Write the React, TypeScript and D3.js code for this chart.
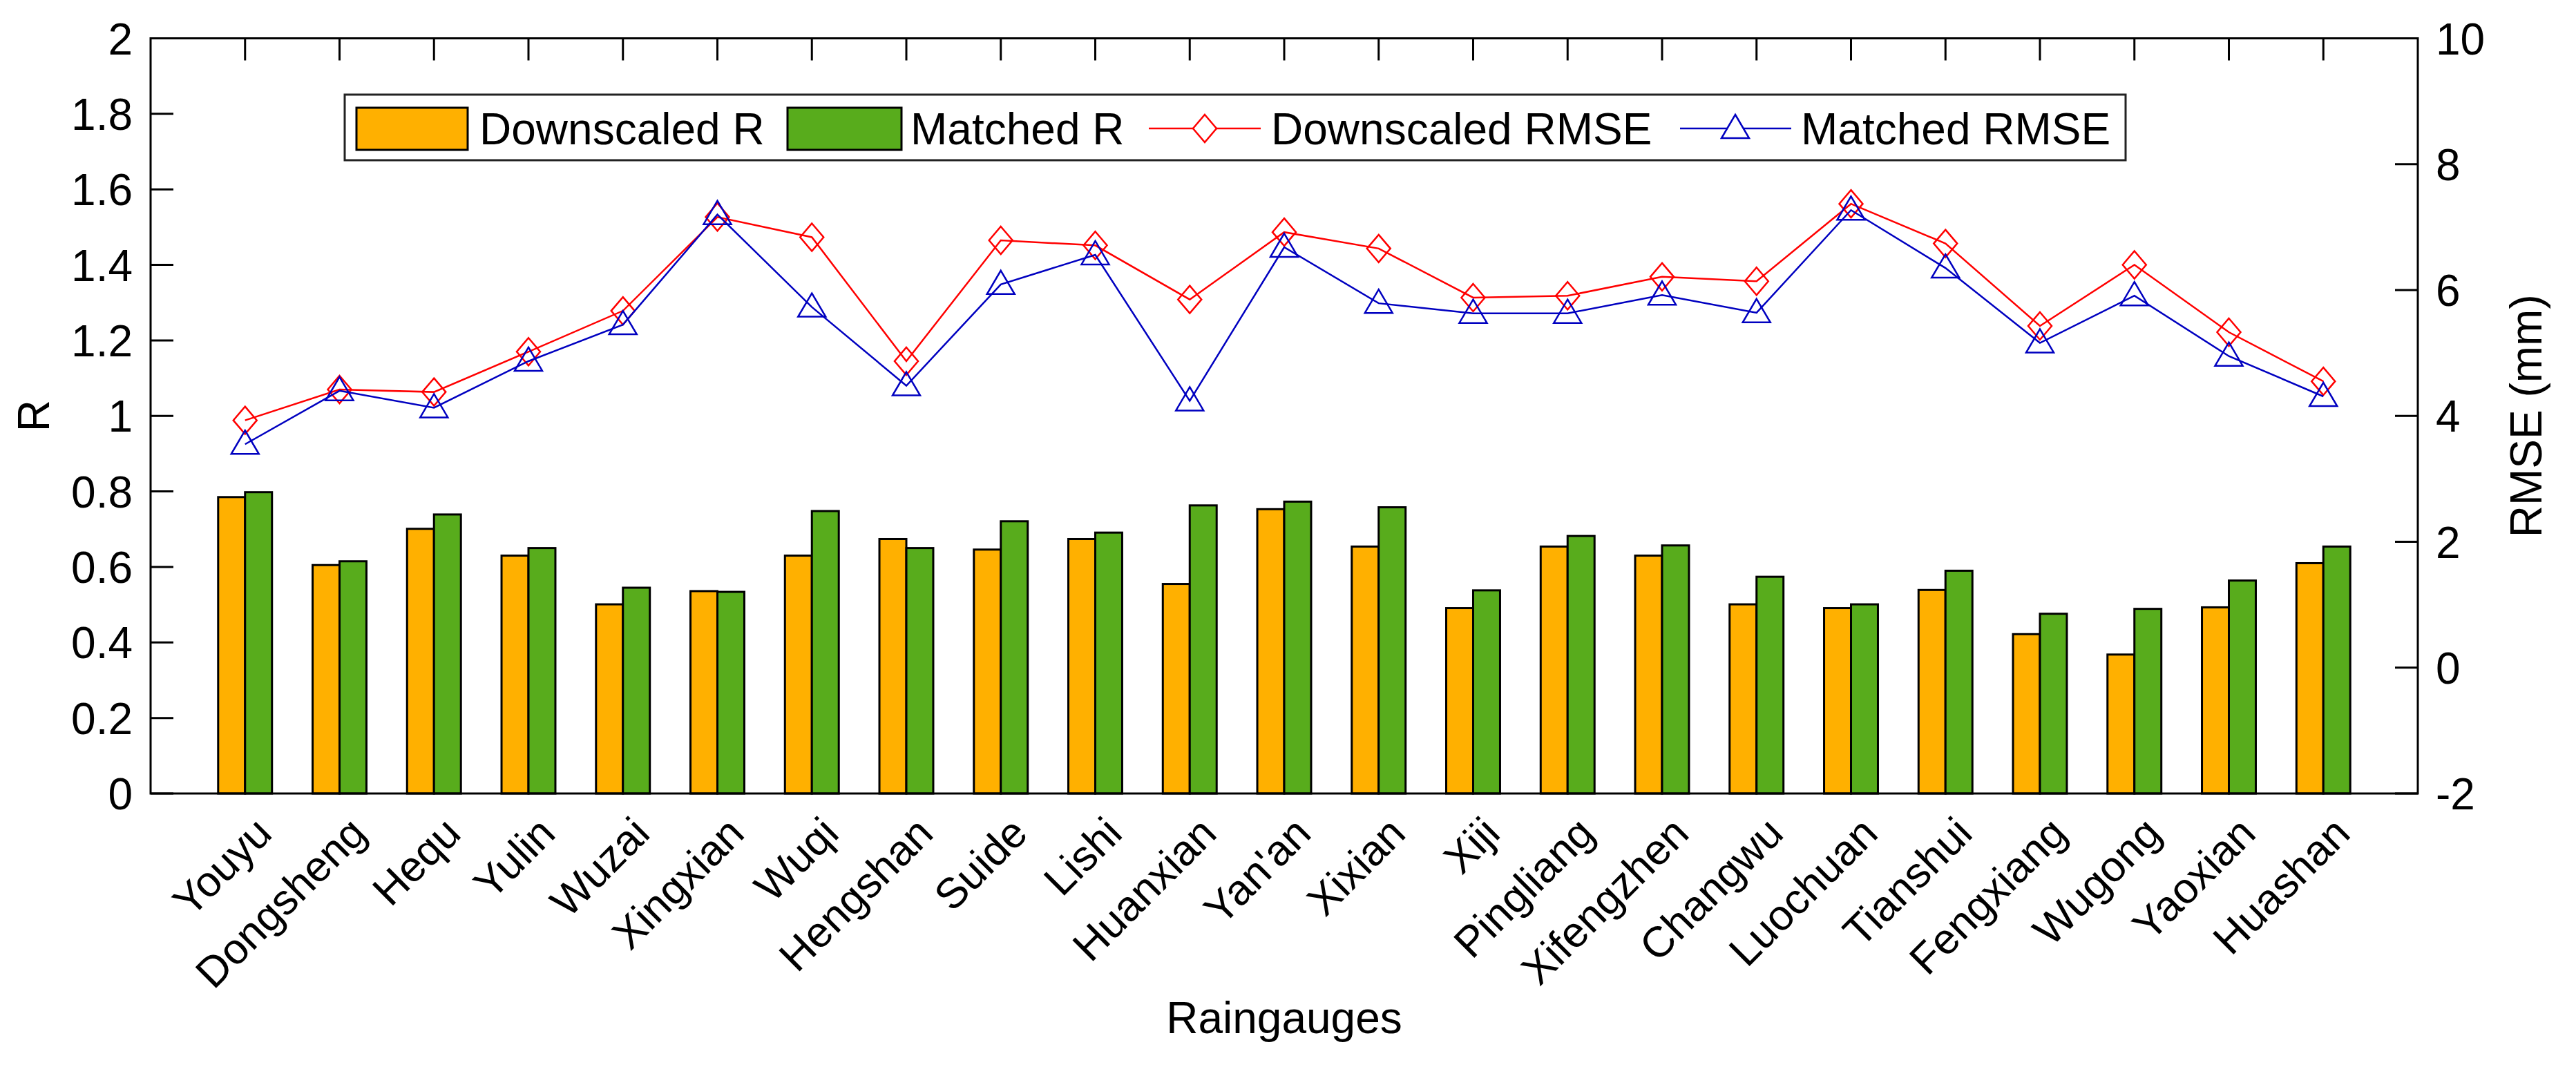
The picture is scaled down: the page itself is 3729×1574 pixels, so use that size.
import React from 'react';
import * as d3 from 'd3';

const stations = [
  'Youyu', 'Dongsheng', 'Hequ', 'Yulin', 'Wuzai', 'Xingxian', 'Wuqi', 'Hengshan',
  'Suide', 'Lishi', 'Huanxian', "Yan'an", 'Xixian', 'Xiji', 'Pingliang', 'Xifengzhen',
  'Changwu', 'Luochuan', 'Tianshui', 'Fengxiang', 'Wugong', 'Yaoxian', 'Huashan',
];
const downscaledR = [
  0.785, 0.605, 0.701, 0.63, 0.501, 0.536, 0.63, 0.674, 0.646, 0.674, 0.555, 0.753,
  0.654, 0.491, 0.654, 0.63, 0.501, 0.491, 0.539, 0.422, 0.368, 0.493, 0.61,
];
const matchedR = [
  0.798, 0.615, 0.739, 0.65, 0.545, 0.534, 0.748, 0.65, 0.721, 0.691, 0.763, 0.773,
  0.758, 0.538, 0.682, 0.657, 0.574, 0.501, 0.59, 0.476, 0.489, 0.564, 0.654,
];
const downscaledRMSE = [
  3.93, 4.42, 4.38, 5.02, 5.67, 7.16, 6.84, 4.87, 6.79, 6.71, 5.85, 6.92,
  6.66, 5.88, 5.91, 6.21, 6.14, 7.37, 6.74, 5.43, 6.4, 5.33, 4.55,
];
const matchedRMSE = [
  3.55, 4.4, 4.13, 4.87, 5.45, 7.2, 5.73, 4.48, 6.09, 6.56, 4.24, 6.68,
  5.79, 5.63, 5.63, 5.92, 5.64, 7.27, 6.35, 5.16, 5.91, 4.95, 4.31,
];
const rTicks = [0, 0.2, 0.4, 0.6, 0.8, 1, 1.2, 1.4, 1.6, 1.8, 2];
const rmseTicks = [-2, 0, 2, 4, 6, 8, 10];
const legendLabels = ['Downscaled R', 'Matched R', 'Downscaled RMSE', 'Matched RMSE'];

const W = 3729;
const H = 1574;
const FONT = '"Liberation Sans", Arial, sans-serif';
const ORANGE = '#FFB000';
const GREEN = '#58AC1C';
const RED = '#FF0000';
const BLUE = '#0000C0';

const diamond = (cx, cy) => `M${cx},${cy - 20}L${cx + 17},${cy}L${cx},${cy + 20}L${cx - 17},${cy}Z`;
const triangle = (cx, cy) => `M${cx},${cy - 20}L${cx + 20},${cy + 14}L${cx - 20},${cy + 14}Z`;

const App = () => {
  const left = 218;
  const right = 3500;
  const top = 55.5;
  const bottom = 1149;

  const x = d3.scaleLinear().domain([0, stations.length + 1]).range([left, right]);
  const yR = d3.scaleLinear().domain([0, 2]).range([bottom, top]);
  const yE = d3.scaleLinear().domain([-2, 10]).range([bottom, top]);
  const bw = x(0.285) - x(0);
  const sub = d3.scaleBand().domain(['d', 'm']).range([-bw, bw]);

  const line = d3
    .line()
    .x((d) => d[0])
    .y((d) => d[1]);
  const ptsD = downscaledRMSE.map((v, i) => [x(i + 1), yE(v)]);
  const ptsM = matchedRMSE.map((v, i) => [x(i + 1), yE(v)]);

  const legY = 186;

  return (
    <div style={{ position: 'absolute', left: 0, top: 0 }}>
      <svg width={W} height={H} style={{ display: 'block', background: '#fff' }} fontFamily={FONT}>
        {/* ticks on top / bottom */}
        {stations.map((s, i) => (
          <g key={s}>
            <line x1={x(i + 1)} x2={x(i + 1)} y1={top} y2={top + 32} stroke="#000" strokeWidth={3} />
            <line x1={x(i + 1)} x2={x(i + 1)} y1={bottom} y2={bottom - 32} stroke="#000" strokeWidth={3} />
          </g>
        ))}
        {rTicks.map((t) => (
          <g key={t}>
            <line x1={left} x2={left + 33} y1={yR(t)} y2={yR(t)} stroke="#000" strokeWidth={3} />
            <text x={left - 26} y={yR(t)} dy="0.36em" textAnchor="end" fontSize={64}>
              {String(+t.toFixed(1))}
            </text>
          </g>
        ))}
        {rmseTicks.map((t) => (
          <g key={t}>
            <line x1={right} x2={right - 33} y1={yE(t)} y2={yE(t)} stroke="#000" strokeWidth={3} />
            <text x={right + 26} y={yE(t)} dy="0.36em" textAnchor="start" fontSize={64}>
              {t}
            </text>
          </g>
        ))}

        {/* bars */}
        {stations.map((s, i) => (
          <g key={`b${s}`}>
            <rect
              x={x(i + 1) + sub('d')}
              y={yR(downscaledR[i])}
              width={sub.bandwidth()}
              height={yR(0) - yR(downscaledR[i])}
              fill={ORANGE}
              stroke="#000"
              strokeWidth={3}
            />
            <rect
              x={x(i + 1) + sub('m')}
              y={yR(matchedR[i])}
              width={sub.bandwidth()}
              height={yR(0) - yR(matchedR[i])}
              fill={GREEN}
              stroke="#000"
              strokeWidth={3}
            />
          </g>
        ))}

        {/* RMSE lines */}
        <path d={line(ptsD)} fill="none" stroke={RED} strokeWidth={2.5} />
        {ptsD.map((p, i) => (
          <path key={`d${i}`} d={diamond(p[0], p[1])} fill="none" stroke={RED} strokeWidth={2.5} />
        ))}
        <path d={line(ptsM)} fill="none" stroke={BLUE} strokeWidth={2.5} />
        {ptsM.map((p, i) => (
          <path key={`m${i}`} d={triangle(p[0], p[1])} fill="none" stroke={BLUE} strokeWidth={2.5} />
        ))}

        {/* frame */}
        <rect x={left} y={top} width={right - left} height={bottom - top} fill="none" stroke="#000" strokeWidth={3} />

        {/* legend */}
        <rect x={499} y={137} width={3077 - 499} height={95} fill="#fff" stroke="#222" strokeWidth={3} />
        <rect x={516} y={156} width={161} height={61} fill={ORANGE} stroke="#000" strokeWidth={3} />
        <text x={694} y={legY} dy="0.36em" fontSize={64}>{legendLabels[0]}</text>
        <rect x={1140} y={156} width={165} height={61} fill={GREEN} stroke="#000" strokeWidth={3} />
        <text x={1318} y={legY} dy="0.36em" fontSize={64}>{legendLabels[1]}</text>
        <line x1={1663} x2={1825} y1={legY} y2={legY} stroke={RED} strokeWidth={2.5} />
        <path d={diamond(1744, legY)} fill="#fff" stroke={RED} strokeWidth={2.5} />
        <text x={1840} y={legY} dy="0.36em" fontSize={64}>{legendLabels[2]}</text>
        <line x1={2432} x2={2593} y1={legY} y2={legY} stroke={BLUE} strokeWidth={2.5} />
        <path d={triangle(2512, legY)} fill="#fff" stroke={BLUE} strokeWidth={2.5} />
        <text x={2607} y={legY} dy="0.36em" fontSize={64}>{legendLabels[3]}</text>

        {/* x tick labels */}
        {stations.map((s, i) => (
          <text
            key={`l${s}`}
            transform={`translate(${x(i + 1) + 42},1210) rotate(-45)`}
            textAnchor="end"
            fontSize={62}
          >
            {s}
          </text>
        ))}

        {/* axis titles */}
        <text x={(left + right) / 2} y={1496} textAnchor="middle" fontSize={64}>Raingauges</text>
        <text transform={`translate(71,${(top + bottom) / 2}) rotate(-90)`} textAnchor="middle" fontSize={64}>R</text>
        <text transform={`translate(3679,${(top + bottom) / 2}) rotate(-90)`} textAnchor="middle" fontSize={64}>RMSE (mm)</text>
      </svg>
    </div>
  );
};

export default App;
